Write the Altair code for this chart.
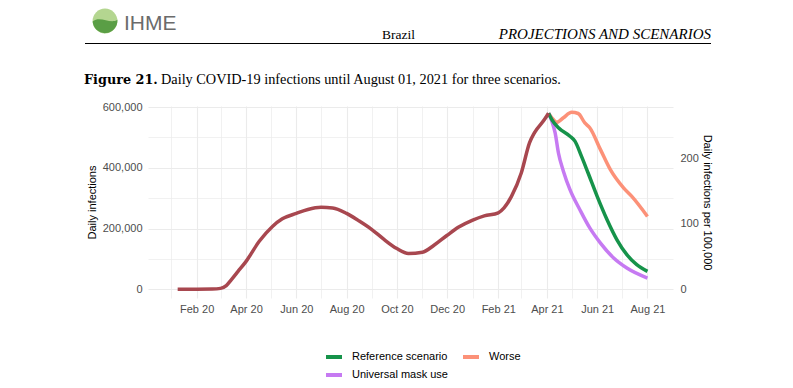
import altair as alt
import pandas as pd

# ---------------- data ----------------
hist_dates = ["2020-01-09", "2020-02-01", "2020-02-20", "2020-03-01", "2020-03-08",
              "2020-03-14", "2020-03-22", "2020-04-01", "2020-04-17", "2020-05-03",
              "2020-05-15", "2020-06-01", "2020-06-15", "2020-07-01", "2020-07-15",
              "2020-08-01", "2020-08-15", "2020-09-01", "2020-09-15", "2020-10-01",
              "2020-10-15", "2020-11-01", "2020-11-15", "2020-12-01", "2020-12-15",
              "2021-01-01", "2021-01-15", "2021-02-01", "2021-02-08", "2021-02-17",
              "2021-03-01", "2021-03-11", "2021-03-17", "2021-03-29", "2021-04-03"]
hist_vals = [0, 0, 500, 3000, 12000,
             31000, 58000, 92000, 158000, 207000,
             232000, 250000, 263000, 270000, 268000,
             250000, 227000, 196000, 165000, 134000,
             118000, 122000, 145000, 178000, 205000,
             228000, 242000, 252000, 268000, 306000,
             384000, 483000, 516000, 559000, 580000]

ref_dates = ["2021-04-03", "2021-04-07", "2021-04-15", "2021-04-29", "2021-05-05",
             "2021-05-13", "2021-05-21", "2021-06-01", "2021-06-13", "2021-06-25",
             "2021-07-07", "2021-07-19", "2021-08-01"]
ref_vals = [580000, 559000, 532000, 504000, 488000,
            438000, 383000, 306000, 229000, 163000,
            114000, 81000, 59000]

worse_dates = ["2021-04-03", "2021-04-07", "2021-04-13", "2021-04-21", "2021-05-01",
               "2021-05-09", "2021-05-17", "2021-05-23", "2021-06-05", "2021-06-17",
               "2021-07-03", "2021-07-13", "2021-08-01"]
worse_vals = [580000, 565000, 550000, 565000, 583000,
              579000, 548000, 532000, 460000, 394000,
              334000, 306000, 240000]

mask_dates = ["2021-04-03", "2021-04-07", "2021-04-11", "2021-04-15", "2021-04-21",
              "2021-04-29", "2021-05-11", "2021-05-23", "2021-06-05", "2021-06-21",
              "2021-07-07", "2021-08-01"]
mask_vals = [580000, 554000, 515000, 449000, 389000,
             328000, 262000, 202000, 152000, 103000,
             70000, 37000]

# legend order (filled column by column: Reference, Universal | Worse)
scenario_names = ["Reference scenario", "Universal mask use", "Worse"]
scenario_colors = ["#16934a", "#c67af2", "#fc9178"]
history_color = "#a8474f"

right_ticks = [0, 100, 200]
left_ticks = [0, 100000, 200000, 300000, 400000, 500000, 600000]
per100k_divisor = 2160  # infections per 1 unit of "per 100,000"

header_left = "Brazil"
header_right = "PROJECTIONS AND SCENARIOS"
logo_text = "IHME"
caption_bold = "Figure 21."
caption_rest = "Daily COVID-19 infections until August 01, 2021 for three scenarios."

# ---------------- frames ----------------
hist = pd.DataFrame({"date": hist_dates, "value": hist_vals})
ref = pd.DataFrame({"date": ref_dates, "value": ref_vals, "scenario": "Reference scenario"})
worse = pd.DataFrame({"date": worse_dates, "value": worse_vals, "scenario": "Worse"})
mask = pd.DataFrame({"date": mask_dates, "value": mask_vals, "scenario": "Universal mask use"})

Y_LO, Y_HI = -28750, 603750
FONT = "Liberation Sans"
SERIF = "Liberation Serif"

month_vals = []
for y in (2020, 2021):
    for m in range(1, 13):
        if y == 2021 and m > 8:
            break
        month_vals.append(alt.DateTime(year=y, month=m, date=1, utc=True))

x_enc = alt.X(
    "date:T",
    scale=alt.Scale(type="utc",
                    domain=[alt.DateTime(year=2019, month=12, date=4, utc=True),
                            alt.DateTime(year=2021, month=9, date=1, utc=True)]),
    axis=alt.Axis(
        values=month_vals,
        labelExpr="utcmonth(datum.value) % 2 == 1 ? utcFormat(datum.value, '%b %y') : ''",
        title=None, ticks=False, domain=False, grid=True,
        gridColor="#ebebeb",
        gridWidth={"condition": {"test": "utcmonth(datum.value) % 2 == 1", "value": 1.1}, "value": 0.7},
        labelFont=FONT, labelFontSize=11, labelColor="#4d4d4d", labelPadding=5,
        labelOverlap=False, labelFlush=False,
    ),
)

y_enc = alt.Y(
    "value:Q",
    scale=alt.Scale(domain=[Y_LO, Y_HI], nice=False, zero=False),
    axis=alt.Axis(
        values=left_ticks,
        labelExpr="datum.value % 200000 == 0 ? format(datum.value, ',') : ''",
        title="Daily infections", ticks=False, domain=False, grid=True,
        gridColor="#ebebeb",
        gridWidth={"condition": {"test": "datum.value % 200000 == 0", "value": 1.1}, "value": 0.7},
        labelFont=FONT, labelFontSize=11, labelColor="#4d4d4d", labelPadding=6,
        titleFont=FONT, titleFontSize=11, titleFontWeight="normal", titleColor="black",
        titlePadding=5,
    ),
)

color_enc = alt.Color(
    "scenario:N",
    sort=scenario_names,
    scale=alt.Scale(domain=scenario_names, range=scenario_colors),
    legend=alt.Legend(
        title=None, orient="none", legendX=176, legendY=241, columns=2,
        symbolType="stroke", symbolSize=256, symbolStrokeWidth=4,
        labelFont=FONT, labelFontSize=11, labelColor="black",
        columnPadding=7, rowPadding=0, labelOffset=8, padding=0,
    ),
)

scen_all = pd.concat([worse, mask, ref], ignore_index=True)

scen_layer = alt.Chart(scen_all).mark_line(strokeWidth=3.5, interpolate="monotone").encode(
    x=x_enc, y=y_enc, color=color_enc)

hist_layer = alt.Chart(hist).mark_line(strokeWidth=3.5, interpolate="monotone",
                                       color=history_color).encode(x=x_enc, y=y_enc)

main = alt.layer(scen_layer, hist_layer)

right = alt.Chart(pd.DataFrame({"per": right_ticks})).mark_point(opacity=0).encode(
    x=alt.value(0),
    y=alt.Y("per:Q",
            scale=alt.Scale(domain=[Y_LO / per100k_divisor, Y_HI / per100k_divisor],
                            nice=False, zero=False),
            axis=alt.Axis(orient="right", values=right_ticks, grid=False, ticks=False,
                          domain=False, title="Daily infections per 100,000",
                          titleAngle=90, labelAlign="left",
                          labelFont=FONT, labelFontSize=11, labelColor="#4d4d4d",
                          labelPadding=7, titleFont=FONT, titleFontSize=11,
                          titleFontWeight="normal", titleColor="black", titlePadding=3)),
)

one = pd.DataFrame({"k": [0]})

def text_layer(txt, x, y, **kw):
    return alt.Chart(pd.DataFrame({"t": [txt]})).mark_text(**kw).encode(
        x=alt.value(x), y=alt.value(y), text="t:N")

deco = [
    alt.Chart(one).mark_point(shape="circle", filled=True, size=615, color="#b4d690",
                              opacity=1).encode(x=alt.value(-43), y=alt.value(-85)),
    alt.Chart(one).mark_point(
        shape="M -1 0.05 C -0.4 -0.5 0.4 0.3 1 -0.1 A 1 1 0 0 1 -1 0.05 Z",
        filled=True, size=615, color="#5a9e45", opacity=1).encode(
        x=alt.value(-43), y=alt.value(-85)),
    text_layer(logo_text, -24, -76, align="left", baseline="alphabetic", font=FONT,
               fontSize=21, color="#6b6b6b"),
    text_layer(header_left, 234, -67, align="left", baseline="alphabetic", font=SERIF,
               fontSize=13.5, color="black"),
    text_layer(header_right, 563, -67, align="right", baseline="alphabetic", font=SERIF,
               fontSize=15, fontStyle="italic", color="black"),
    alt.Chart(one).mark_rule(color="black", strokeWidth=1.2).encode(
        x=alt.value(-63), x2=alt.value(563), y=alt.value(-62.5)),
    text_layer(caption_bold, -64, -22, align="left", baseline="alphabetic",
               font="DejaVu Serif", fontSize=12.8, fontWeight="bold", color="black"),
    text_layer(caption_rest, 13, -22, align="left", baseline="alphabetic", font=SERIF,
               fontSize=14.3, color="black"),
]

chart = alt.layer(main, right, *deco).resolve_scale(y="independent").properties(
    width=525, height=192,
    autosize=alt.AutoSizeParams(type="none"),
    padding={"left": 140, "top": 98, "right": 112, "bottom": 82},
).configure_view(stroke=None)

chart.save("out.html", embed_options={"renderer": "svg", "actions": False})
